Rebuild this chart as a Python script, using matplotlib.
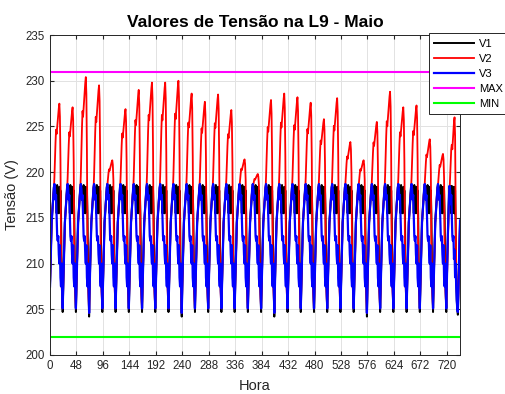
import numpy as np
import matplotlib
matplotlib.use("Agg")
import matplotlib.pyplot as plt

plt.rcParams['font.family'] = ['Liberation Sans', 'DejaVu Sans']

# Typical day, hour 0 = daily minimum of the voltage
v3_day = [205.1, 207.5, 210.0, 212.5, 214.5, 215.5, 216.5, 217.5, 218.3, 218.7, 218.2, 217.0,
          217.5, 215.0, 213.0, 212.5, 213.0, 211.0, 210.0, 212.0, 208.5, 207.5, 210.0, 207.0]
v1_day = [204.7, 207.5, 210.0, 212.5, 214.5, 215.5, 216.5, 217.5, 218.3, 218.7, 218.2, 217.0,
          218.3, 215.5, 218.6, 215.6, 218.0, 215.5, 218.4, 215.8, 218.0, 215.5, 210.0, 207.0]
# V2 rise above 218 V as a share of the day's peak (hours 8..20), else fixed values
v2_rise = [0.0, 0.15, 0.35, 0.55, 0.70, 0.65, 0.72, 0.80, 0.88, 0.95, 1.0, 0.85, 0.35]
v2_fall = [212.0, 208.0, 206.3]

# per-day readings (days 0..29)
v2_peak = [227.5, 227.1, 230.4, 229.5, 221.3, 226.9, 229.0, 229.8, 229.8, 230.0,
           228.6, 227.7, 228.5, 226.8, 221.4, 219.8, 227.9, 228.6, 228.2, 227.6,
           225.8, 228.1, 223.3, 221.3, 225.5, 228.8, 227.1, 227.3, 223.6, 222.0]
v3_min = [205.1, 205.1, 205.1, 204.6, 205.1, 205.1, 205.1, 205.1, 205.1, 205.1,
          204.6, 205.1, 205.1, 205.1, 205.1, 205.1, 205.1, 204.6, 205.1, 205.1,
          205.1, 205.1, 205.1, 205.1, 204.6, 205.1, 205.1, 205.1, 205.1, 205.1]

# last (shorter) day, hours 719..744
v3_tail = [205.1, 208.0, 211.0, 213.5, 215.5, 217.5, 218.5, 218.0, 216.5, 217.5, 215.0, 213.0, 212.5,
           213.0, 210.5, 211.5, 208.5, 210.0, 207.5, 206.0, 205.0, 204.7, 207.0, 210.0, 212.5, 214.7]
v1_tail = [204.7, 208.0, 211.0, 213.5, 215.5, 217.5, 218.5, 218.0, 218.5, 215.5, 218.5, 215.5, 218.2,
           215.6, 218.4, 215.5, 218.0, 214.0, 209.0, 206.0, 205.0, 204.4, 207.0, 210.0, 212.5, 214.7]
v2_tail = [205.3, 207.8, 210.8, 213.3, 215.3, 217.3, 218.0, 219.5, 221.0, 222.5, 223.0, 222.5, 223.5,
           224.5, 225.5, 226.0, 224.0, 216.0, 210.0, 207.0, 205.5, 205.0, 206.8, 209.8, 212.3, 214.5]

v_max = 231
v_min = 202

xticks = list(range(0, 721, 48))
yticks = list(range(200, 236, 5))


def build_series():
    v1, v2, v3 = [], [], []
    for k in range(len(v2_peak)):
        for h in range(24):
            b3 = v3_day[h]
            b1 = v1_day[h]
            if h == 0:
                b3 = v3_min[k]
                b1 = v3_min[k] - 0.4
            if h < 8:
                b2 = b3
            elif h <= 20:
                b2 = 218 + v2_rise[h - 8] * (v2_peak[k] - 218)
            else:
                b2 = v2_fall[h - 21]
            v1.append(b1)
            v2.append(b2)
            v3.append(b3)
    # first value belongs to hour -1
    v1 = v1[1:] + v1_tail
    v2 = v2[1:] + v2_tail
    v3 = v3[1:] + v3_tail
    return np.array(v1), np.array(v2), np.array(v3)


v1, v2, v3 = build_series()
hours = np.arange(len(v1))

fig = plt.figure(figsize=(5.05, 3.94), dpi=100)
ax = fig.add_axes([0.099, 0.099, 0.812, 0.812])

ax.plot(hours, v1, color='black', lw=1.4, label='V1')
ax.plot(hours, v2, color='red', lw=1.3, label='V2')
ax.plot(hours, v3, color='blue', lw=1.6, label='V3')
ax.axhline(v_max, color='#ff00ff', lw=1.5, label='MAX')
ax.axhline(v_min, color='#00ff00', lw=1.5, label='MIN')

ax.set_xlim(0, 744)
ax.set_ylim(200, 235)
ax.set_xticks(xticks)
ax.set_yticks(yticks)
ax.grid(True, color='#e2e2e2', lw=0.7)
ax.set_axisbelow(True)
ax.tick_params(direction='in', top=True, right=True, labelsize=8.3, colors='#262626', length=3)
for s in ax.spines.values():
    s.set_color('#262626')
    s.set_linewidth(0.7)

ax.set_title('Valores de Tensão na L9 - Maio', fontsize=12.5, fontweight='bold', pad=6)
ax.set_xlabel('Hora', fontsize=10.5, color='#262626', labelpad=5)
ax.set_ylabel('Tensão (V)', fontsize=10.5, color='#262626', labelpad=5)

leg = ax.legend(loc='upper left', bbox_to_anchor=(0.924, 1.006), fontsize=8, frameon=True,
                fancybox=False, handlelength=3.6, labelspacing=0.45, borderaxespad=0,
                handletextpad=0.4, borderpad=0.5)
leg.get_frame().set_edgecolor('#262626')
leg.get_frame().set_linewidth(0.7)
leg.get_frame().set_alpha(1)

fig.savefig('out.png', dpi=100)
